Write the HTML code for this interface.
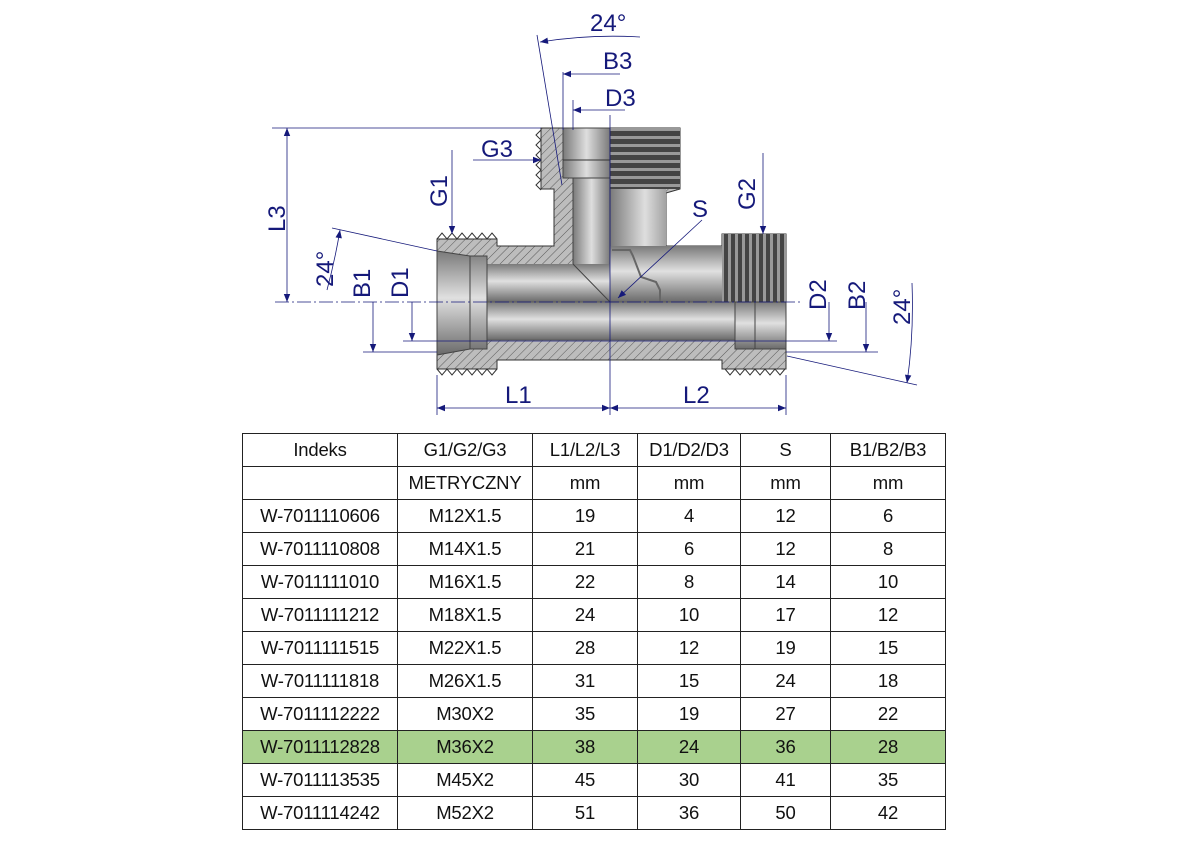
<!DOCTYPE html>
<html><head><meta charset="utf-8"><style>
body{margin:0;background:#fff;width:1191px;height:842px;overflow:hidden;position:relative;font-family:"Liberation Sans",sans-serif}
svg{position:absolute;left:0;top:0}
table{position:absolute;left:242px;top:433px;border-collapse:collapse;font-size:18.5px;color:#111}
td{border:1.5px solid #222;height:32px;padding:0;text-align:center;letter-spacing:-0.2px}
tr.g td{background:#a9d18e}
</style></head><body>
<svg width="1191" height="430" viewBox="0 0 1191 430">
<defs>
<pattern id="h" width="6" height="6" patternUnits="userSpaceOnUse" patternTransform="rotate(45)">
<rect width="6" height="6" fill="#bdbdbd"/><line x1="0" y1="0" x2="0" y2="6" stroke="#5a5a5a" stroke-width="1"/></pattern>
<linearGradient id="gv" x1="0" y1="0" x2="0" y2="1"><stop offset="0" stop-color="#7a7a7a"/><stop offset=".45" stop-color="#e0e0e0"/><stop offset="1" stop-color="#6a6a6a"/></linearGradient>
<linearGradient id="gh" x1="0" y1="0" x2="1" y2="0"><stop offset="0" stop-color="#7a7a7a"/><stop offset=".5" stop-color="#dedede"/><stop offset="1" stop-color="#7a7a7a"/></linearGradient>
<pattern id="th" width="6" height="8" patternUnits="userSpaceOnUse"><rect width="6" height="8" fill="#444"/><rect width="6" height="3" fill="#999"/></pattern>
<pattern id="tv" width="7" height="6" patternUnits="userSpaceOnUse"><rect width="7" height="6" fill="#444"/><rect width="3" height="6" fill="#999"/></pattern>
<marker id="a" viewBox="0 0 10 10" refX="10" refY="5" markerWidth="11" markerHeight="8" orient="auto-start-reverse" markerUnits="userSpaceOnUse"><path d="M0,1 L10,5 L0,9z" fill="#15197a"/></marker>
</defs>
<path d="M437,239 L497,239 L497,246 L554,246 L554,189 L541,189 L541,128 L680,128 L680,189 L666,193 L666,246 L722,246 L722,234 L786,234 L786,369 L722,369 L722,360 L497,360 L497,369 L437,369 Z" fill="url(#h)" stroke="#333" stroke-width="1"/>
<rect x="610" y="128" width="70" height="61" fill="url(#th)"/>
<path d="M610,189 L666,189 L666,246 L680,260 L610,302 Z" fill="url(#gh)"/>
<rect x="563" y="128" width="47" height="50" fill="url(#gh)" stroke="#444"/>
<line x1="563" y1="160" x2="610" y2="160" stroke="#333"/>
<path d="M573,178 L610,178 L610,302 L573,264 Z" fill="url(#gh)" stroke="#444"/>
<rect x="487" y="264" width="123" height="38" fill="url(#gv)"/>
<path d="M573,264 L610,302 L487,302 L487,264Z" fill="url(#gv)"/>
<path d="M573,264 L610,302" stroke="#444"/>
<rect x="610" y="246" width="112" height="56" fill="url(#gv)"/>
<rect x="722" y="234" width="64" height="68" fill="url(#tv)"/>
<rect x="487" y="302" width="248" height="38" fill="url(#gv)" stroke="#555" stroke-width=".8"/>
<path d="M437,251 L470,256 L487,256 L487,349 L470,349 L437,355 Z" fill="url(#gv)" stroke="#444"/>
<line x1="470" y1="256" x2="470" y2="349" stroke="#444"/>
<path d="M735,302 L786,302 L786,349 L735,349 Z" fill="url(#gv)" stroke="#444"/>
<line x1="755" y1="302" x2="755" y2="349" stroke="#444"/>
<path d="M612,250 L630,250 L633,256 L641,277 L656,282 L660,290 L660,302" fill="none" stroke="#666" stroke-width="2"/>
<path d="M437,239 l5,-6 l5,6 l5,-6 l5,6 l5,-6 l5,6 l5,-6 l5,6 l5,-6 l5,6 l5,-6 l5,6" fill="none" stroke="#333"/>
<path d="M437,369 l5,6 l5,-6 l5,6 l5,-6 l5,6 l5,-6 l5,6 l5,-6 l5,6 l5,-6 l5,6 l5,-6" fill="none" stroke="#333"/>
<path d="M725,369 l5,6 l5,-6 l5,6 l5,-6 l5,6 l5,-6 l5,6 l5,-6 l5,6 l5,-6 l5,6 l5,-6" fill="none" stroke="#333"/>
<path d="M541,130 l-5,5 l5,5 l-5,5 l5,5 l-5,5 l5,5 l-5,5 l5,5 l-5,5 l5,5 l-5,5 l5,5" fill="none" stroke="#333"/>
<line x1="610" y1="115" x2="610" y2="415" stroke="#15197a" stroke-width=".8"/>
<line x1="275" y1="302" x2="800" y2="302" stroke="#15197a" stroke-width=".8" stroke-dasharray="14,3,2,3"/>
<g stroke="#15197a" stroke-width=".8" fill="none">
<line x1="272" y1="128" x2="541" y2="128"/>
<line x1="287" y1="128" x2="287" y2="302" marker-start="url(#a)" marker-end="url(#a)"/>
<line x1="437" y1="375" x2="437" y2="415"/><line x1="786" y1="375" x2="786" y2="415"/>
<line x1="437" y1="408" x2="610" y2="408" marker-start="url(#a)" marker-end="url(#a)"/>
<line x1="610" y1="408" x2="786" y2="408" marker-start="url(#a)" marker-end="url(#a)"/>
<line x1="537" y1="35" x2="562" y2="185"/>
<path d="M540,42 Q590,34 640,37" marker-start="url(#a)"/>
<line x1="563" y1="72" x2="563" y2="130"/>
<line x1="620" y1="74" x2="563" y2="74" marker-end="url(#a)"/>
<line x1="573" y1="100" x2="573" y2="130"/>
<line x1="625" y1="110" x2="573" y2="110" marker-end="url(#a)"/>
<line x1="473" y1="160" x2="541" y2="160" marker-end="url(#a)"/>
<line x1="452" y1="150" x2="452" y2="234" marker-end="url(#a)"/>
<line x1="763" y1="153" x2="763" y2="234" marker-end="url(#a)"/>
<line x1="702" y1="220" x2="618" y2="298" marker-end="url(#a)"/>
<line x1="332" y1="228" x2="437" y2="251"/>
<path d="M327,290 Q335,260 340,230" marker-end="url(#a)"/>
<line x1="787" y1="356" x2="917" y2="385"/>
<path d="M912,283 Q914,335 907,383" marker-end="url(#a)"/>
<line x1="363" y1="352" x2="437" y2="352"/>
<line x1="373" y1="302" x2="373" y2="352" marker-end="url(#a)"/>
<line x1="403" y1="341" x2="837" y2="341"/>
<line x1="412" y1="302" x2="412" y2="341" marker-end="url(#a)"/>
<line x1="829" y1="302" x2="829" y2="341" marker-end="url(#a)"/>
<line x1="786" y1="352" x2="878" y2="352"/>
<line x1="866" y1="302" x2="866" y2="352" marker-end="url(#a)"/>
</g>
<g fill="#15197a" font-family="Liberation Sans,sans-serif" font-size="24">
<text x="505" y="403">L1</text><text x="683" y="403">L2</text>
<text x="590" y="31">24°</text><text x="603" y="69">B3</text><text x="605" y="106">D3</text>
<text x="481" y="157">G3</text><text x="692" y="217">S</text>
<text transform="translate(285,232) rotate(-90)">L3</text>
<text transform="translate(447,207) rotate(-90)">G1</text>
<text transform="translate(755,210) rotate(-90)">G2</text>
<text transform="translate(333,287) rotate(-90)">24°</text>
<text transform="translate(370,298) rotate(-90)">B1</text>
<text transform="translate(408,298) rotate(-90)">D1</text>
<text transform="translate(826,310) rotate(-90)">D2</text>
<text transform="translate(865,310) rotate(-90)">B2</text>
<text transform="translate(910,325) rotate(-90)">24°</text>
</g>
</svg>
<table>
<colgroup><col style="width:155px"><col style="width:135px"><col style="width:105px"><col style="width:103px"><col style="width:90px"><col style="width:115px"></colgroup>
<tr><td>Indeks</td><td>G1/G2/G3</td><td>L1/L2/L3</td><td>D1/D2/D3</td><td>S</td><td>B1/B2/B3</td></tr>
<tr><td></td><td>METRYCZNY</td><td>mm</td><td>mm</td><td>mm</td><td>mm</td></tr>
<tr><td>W-7011110606</td><td>M12X1.5</td><td>19</td><td>4</td><td>12</td><td>6</td></tr>
<tr><td>W-7011110808</td><td>M14X1.5</td><td>21</td><td>6</td><td>12</td><td>8</td></tr>
<tr><td>W-7011111010</td><td>M16X1.5</td><td>22</td><td>8</td><td>14</td><td>10</td></tr>
<tr><td>W-7011111212</td><td>M18X1.5</td><td>24</td><td>10</td><td>17</td><td>12</td></tr>
<tr><td>W-7011111515</td><td>M22X1.5</td><td>28</td><td>12</td><td>19</td><td>15</td></tr>
<tr><td>W-7011111818</td><td>M26X1.5</td><td>31</td><td>15</td><td>24</td><td>18</td></tr>
<tr><td>W-7011112222</td><td>M30X2</td><td>35</td><td>19</td><td>27</td><td>22</td></tr>
<tr class="g"><td>W-7011112828</td><td>M36X2</td><td>38</td><td>24</td><td>36</td><td>28</td></tr>
<tr><td>W-7011113535</td><td>M45X2</td><td>45</td><td>30</td><td>41</td><td>35</td></tr>
<tr><td>W-7011114242</td><td>M52X2</td><td>51</td><td>36</td><td>50</td><td>42</td></tr>
</table>
</body></html>
